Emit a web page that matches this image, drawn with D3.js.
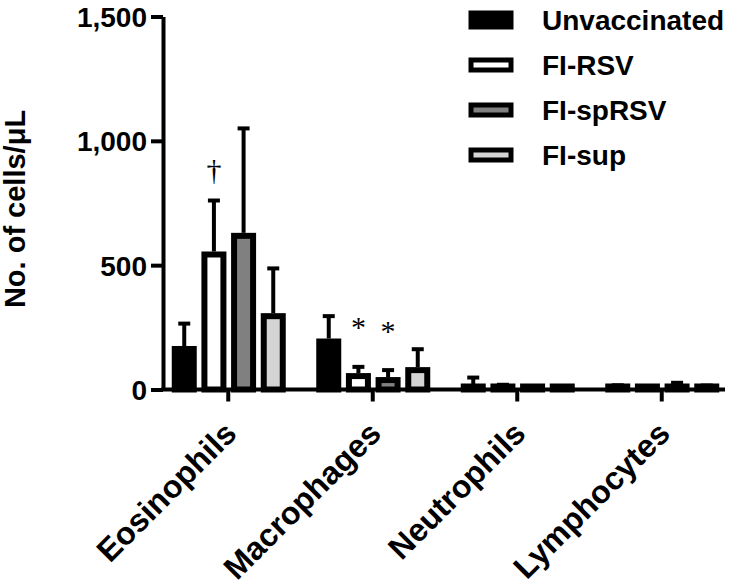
<!DOCTYPE html>
<html>
<head>
<meta charset="utf-8">
<script src="https://cdn.jsdelivr.net/npm/d3@7"></script>
<style>
  body { margin: 0; background: #fff; }
  svg { font-family: "Liberation Sans", Arial, sans-serif; font-weight: bold; }
</style>
</head>
<body>
<div id="chart"></div>
<script>
// Data
const categories = ["Eosinophils", "Macrophages", "Neutrophils", "Lymphocytes"];
const series = ["Unvaccinated", "FI-RSV", "FI-spRSV", "FI-sup"];
const seriesColors = ["#000000", "#ffffff", "#808080", "#d4d4d4"];
const meanValues = {
  "Unvaccinated": [175, 205, 18, 12],
  "FI-RSV": [555, 66, 14, 7],
  "FI-spRSV": [630, 50, 10, 22],
  "FI-sup": [307, 90, 10, 12]
};
const errorValues = {
  "Unvaccinated": [90, 90, 30, 5],
  "FI-RSV": [205, 25, 5, 3],
  "FI-spRSV": [420, 28, 4, 5],
  "FI-sup": [180, 72, 4, 4]
};
const yTicks = [0, 500, 1000, 1500];
const marks = [
  { category: "Eosinophils", series: "FI-RSV", symbol: "\u2020" },
  { category: "Macrophages", series: "FI-RSV", symbol: "*" },
  { category: "Macrophages", series: "FI-spRSV", symbol: "*" }
];

const width = 730, height = 585;
const plotLeft = 163, axisRight = 725, plotTop = 16.5, plotBottom = 389.5;

const svg = d3.select("#chart").append("svg")
  .attr("width", width)
  .attr("height", height);

// Scales
const y = d3.scaleLinear().domain([0, 1500]).range([plotBottom, plotTop]);
const x = d3.scaleBand().domain(categories).range([156, 734]);
const xSub = d3.scalePoint().domain(series).range([-44, 45]);
const barW = 19, barStroke = 6;

const rows = [];
categories.forEach((c, ci) => {
  series.forEach((s, si) => {
    rows.push({ category: c, series: s, color: seriesColors[si],
      value: meanValues[s][ci], err: errorValues[s][ci] });
  });
});
const cx = d => x(d.category) + x.bandwidth() / 2 + xSub(d.series);
// outer edge of the thick outline sits on the value, tiny bars keep a visible outline
const barTop = d => Math.min(y(d.value) + barStroke / 2, y(0) - barStroke / 2);

// Error bars (upper only)
const eb = svg.append("g").attr("stroke", "#000").attr("stroke-width", 4);
eb.selectAll("line.v").data(rows).join("line")
  .attr("class", "v")
  .attr("x1", cx).attr("x2", cx)
  .attr("y1", d => y(d.value)).attr("y2", d => y(d.value + d.err));
eb.selectAll("line.cap").data(rows).join("line")
  .attr("class", "cap")
  .attr("x1", d => cx(d) - 6).attr("x2", d => cx(d) + 6)
  .attr("y1", d => y(d.value + d.err)).attr("y2", d => y(d.value + d.err));

// Bars
svg.append("g").selectAll("rect").data(rows).join("rect")
  .attr("x", d => cx(d) - barW / 2)
  .attr("y", barTop)
  .attr("width", barW)
  .attr("height", d => y(0) - barTop(d))
  .attr("fill", d => d.color)
  .attr("stroke", "#000")
  .attr("stroke-width", barStroke);

// Significance marks
svg.append("g").selectAll("text").data(marks).join("text")
  .attr("x", d => x(d.category) + x.bandwidth() / 2 + xSub(d.series))
  .attr("y", d => {
    const i = categories.indexOf(d.category);
    return y(meanValues[d.series][i] + errorValues[d.series][i]) - 43;
  })
  .attr("dy", d => d.symbol === "*" ? "0.45em" : "0.75em")
  .attr("text-anchor", "middle")
  .style("font-family", "'Liberation Serif', serif")
  .style("font-weight", "normal")
  .style("font-size", "30px")
  .text(d => d.symbol);

// Y axis
const yAxis = svg.append("g")
  .attr("transform", `translate(${plotLeft},0)`)
  .call(d3.axisLeft(y).tickValues(yTicks).tickFormat(d3.format(",")).tickSize(12).tickSizeOuter(0).tickPadding(4));
yAxis.selectAll("path, line").attr("stroke", "#000").attr("stroke-width", 4);
yAxis.selectAll("text").style("font-size", "28px").attr("fill", "#000").attr("dy", "0.36em");

// X axis
const xAxis = svg.append("g")
  .attr("transform", `translate(0,${plotBottom})`)
  .call(d3.axisBottom(x).tickSize(12).tickSizeOuter(0));
xAxis.select(".domain").attr("d", `M${plotLeft - 2},0H${axisRight}`);
xAxis.selectAll("path, line").attr("stroke", "#000").attr("stroke-width", 4);
xAxis.selectAll("text")
  .style("font-size", "32px")
  .attr("fill", "#000")
  .attr("text-anchor", "end")
  .attr("dy", 0)
  .attr("transform", "translate(10,46) rotate(-45)")
  .attr("y", 0).attr("x", 0);

// Y axis title
svg.append("text")
  .attr("transform", "translate(25,209) rotate(-90)")
  .attr("text-anchor", "middle")
  .style("font-size", "29px")
  .text("No. of cells/\u03bcL");

// Legend
const legend = svg.append("g").attr("transform", "translate(468,0)");
const items = legend.selectAll("g").data(series).join("g")
  .attr("transform", (d, i) => `translate(0,${20 + i * 45})`);
items.append("rect")
  .attr("x", 3).attr("y", (d, i) => i === 0 ? -7 : -5)
  .attr("width", 40).attr("height", (d, i) => i === 0 ? 14 : 10)
  .attr("fill", (d, i) => seriesColors[i])
  .attr("stroke", "#000").attr("stroke-width", 5);
items.append("text")
  .attr("x", 74).attr("dy", "0.36em")
  .style("font-size", "28px")
  .text(d => d);
</script>
</body>
</html>
